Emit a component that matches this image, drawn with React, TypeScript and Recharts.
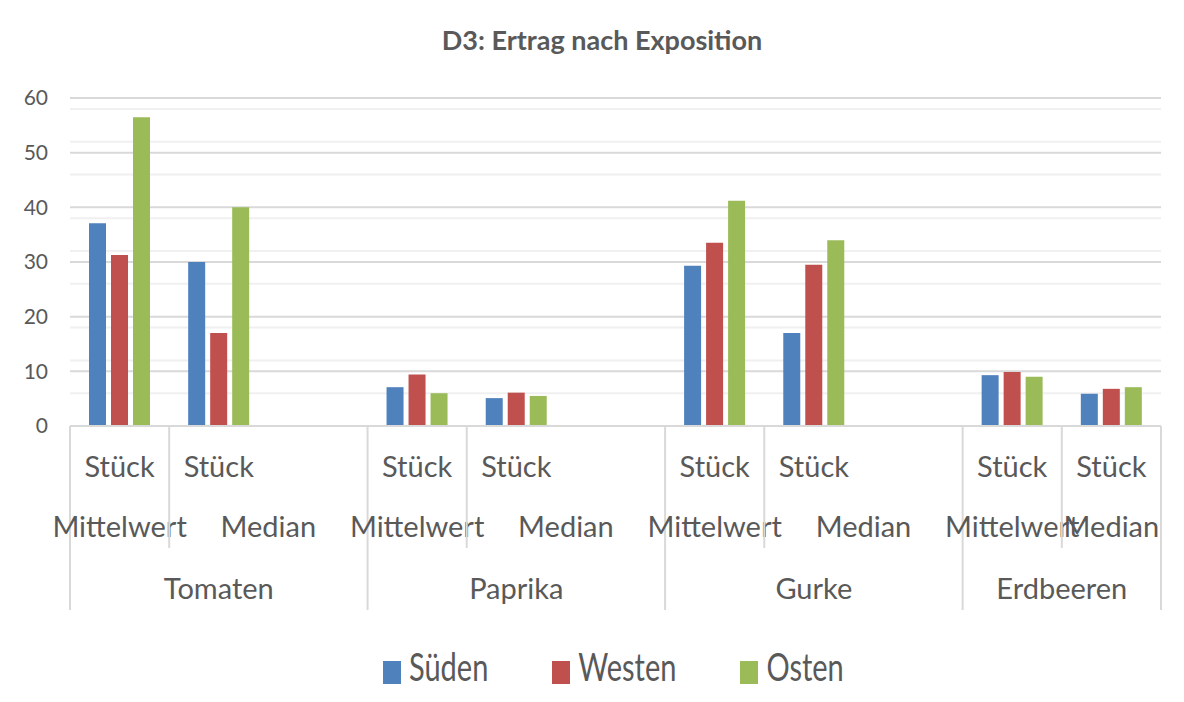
import React from "react";
import { BarChart, Bar, XAxis, YAxis, CartesianGrid, Legend, Customized } from "recharts";

const groups = ["Tomaten", "Paprika", "Gurke", "Erdbeeren"];
const groupOf = ["Tomaten", "Tomaten", "Tomaten", "Paprika", "Paprika", "Paprika", "Gurke", "Gurke", "Gurke", "Erdbeeren", "Erdbeeren"];
const unitLabels = ["Stück", "Stück", "", "Stück", "Stück", "", "Stück", "Stück", "", "Stück", "Stück"];
const statLabels = ["Mittelwert", "Median", "", "Mittelwert", "Median", "", "Mittelwert", "Median", "", "Mittelwert", "Median"];

const sueden = [37.1, 30, null, 7.1, 5.1, null, 29.3, 17, null, 9.3, 5.9];
const westen = [31.3, 17, null, 9.4, 6.1, null, 33.5, 29.5, null, 9.9, 6.8];
const osten = [56.5, 40, null, 6, 5.5, null, 41.2, 34, null, 9, 7.1];

const yTicks = [0, 10, 20, 30, 40, 50, 60];
const minorTicks = [2, 4, 6, 8, 12, 14, 16, 18, 22, 24, 26, 28, 32, 34, 36, 38, 42, 44, 46, 48, 52, 54, 56, 58];

const series = [
  { key: "sueden", name: "Süden", color: "#4f81bd" },
  { key: "westen", name: "Westen", color: "#c0504d" },
  { key: "osten", name: "Osten", color: "#9bbb59" },
];

const data = groupOf.map((g, i) => ({
  id: String(i),
  group: g,
  unit: unitLabels[i],
  stat: statLabels[i],
  sueden: sueden[i],
  westen: westen[i],
  osten: osten[i],
}));

const W = 1176;
const H = 694;
const M = { top: 93, right: 21, bottom: 73, left: 14 };
const Y_W = 50;
const BAND = (W - M.left - M.right - Y_W) / data.length;
const FONT = "Lato, 'Open Sans', sans-serif";
const TXT = "#595959";
const LINE = "#d9d9d9";

const CategoryTick = (props: any) => {
  const { x, y, payload } = props;
  const i = payload.index;
  const d = data[i];
  const left = x - BAND / 2;
  const firstOfGroup = i === 0 || data[i - 1].group !== d.group;
  const lastOfGroup = i === data.length - 1 || data[i + 1].group !== d.group;
  const nextBlank = i < data.length - 1 && data[i + 1].stat === "" && !lastOfGroup;
  const groupSize = data.filter((r) => r.group === d.group).length;
  const statCenter = nextBlank ? x + BAND / 2 : x;
  return (
    <g>
      {firstOfGroup && <line x1={left} x2={left} y1={y} y2={y + 184} stroke={LINE} strokeWidth={2} />}
      {!firstOfGroup && d.stat !== "" && <line x1={left} x2={left} y1={y} y2={y + 122} stroke={LINE} strokeWidth={2} />}
      {i === data.length - 1 && <line x1={x + BAND / 2} x2={x + BAND / 2} y1={y} y2={y + 184} stroke={LINE} strokeWidth={2} />}
      {d.unit && (
        <text x={x} y={y + 51} textAnchor="middle" fontFamily={FONT} fontSize={29} fill={TXT}>
          {d.unit}
        </text>
      )}
      {d.stat && (
        <text x={statCenter} y={y + 111} textAnchor="middle" fontFamily={FONT} fontSize={29} fill={TXT}>
          {d.stat}
        </text>
      )}
      {firstOfGroup && (
        <text x={left + (groupSize * BAND) / 2} y={y + 173} textAnchor="middle" fontFamily={FONT} fontSize={29} fill={TXT}>
          {groups[groups.indexOf(d.group)]}
        </text>
      )}
    </g>
  );
};

const LegendContent = () => (
  <div style={{ display: "flex", alignItems: "flex-end", fontFamily: FONT, color: TXT }}>
    {series.map((s, i) => (
      <div key={s.key} style={{ display: "flex", alignItems: "flex-end", marginRight: i < series.length - 1 ? 64 : 0 }}>
        <span style={{ display: "inline-block", width: 18, height: 23, background: s.color, marginRight: 8, marginBottom: 1 }} />
        <span style={{ fontSize: 29, lineHeight: "29px", display: "inline-block", transform: "scaleY(1.3)", transformOrigin: "bottom" }}>
          {s.name}
        </span>
      </div>
    ))}
  </div>
);

const Title = () => (
  <text x={596} y={45} textAnchor="middle" fontFamily={FONT} fontWeight={700} fontSize={27} fill={TXT}>
    D3: Ertrag nach Exposition
  </text>
);

export default function App() {
  return (
    <div style={{ position: "relative", width: W, height: H, margin: "-3px 0 0 -2px", overflow: "hidden", background: "#fff" }}>
      <div style={{ position: "absolute", left: 0, top: 0, width: W + 40, height: H + 40, borderLeft: `2px solid ${LINE}`, borderTop: `2px solid ${LINE}` }} />
      <BarChart width={W} height={H} data={data} margin={M} barSize={17} barGap={5}>
        <CartesianGrid vertical={false} horizontalValues={minorTicks} stroke="#f0f0f0" strokeWidth={2} />
        <CartesianGrid vertical={false} horizontalValues={yTicks.slice(1)} stroke={LINE} strokeWidth={2} />
        <XAxis
          dataKey="id"
          interval={0}
          height={200}
          tickSize={0}
          tickMargin={0}
          tickLine={false}
          axisLine={{ stroke: LINE, strokeWidth: 2 }}
          tick={<CategoryTick />}
        />
        <YAxis
          width={Y_W}
          domain={[0, 60]}
          ticks={yTicks}
          tickSize={0}
          tickMargin={22}
          axisLine={false}
          tickLine={false}
          tick={{ fill: TXT, fontSize: 21, fontFamily: FONT }}
        />
        {series.map((s) => (
          <Bar key={s.key} dataKey={s.key} name={s.name} fill={s.color} isAnimationActive={false} />
        ))}
        <Legend
          verticalAlign="middle"
          align="center"
          content={<LegendContent />}
          wrapperStyle={{ top: 651, left: 377, width: "auto" }}
        />
        <Customized component={<Title />} />
      </BarChart>
    </div>
  );
}
